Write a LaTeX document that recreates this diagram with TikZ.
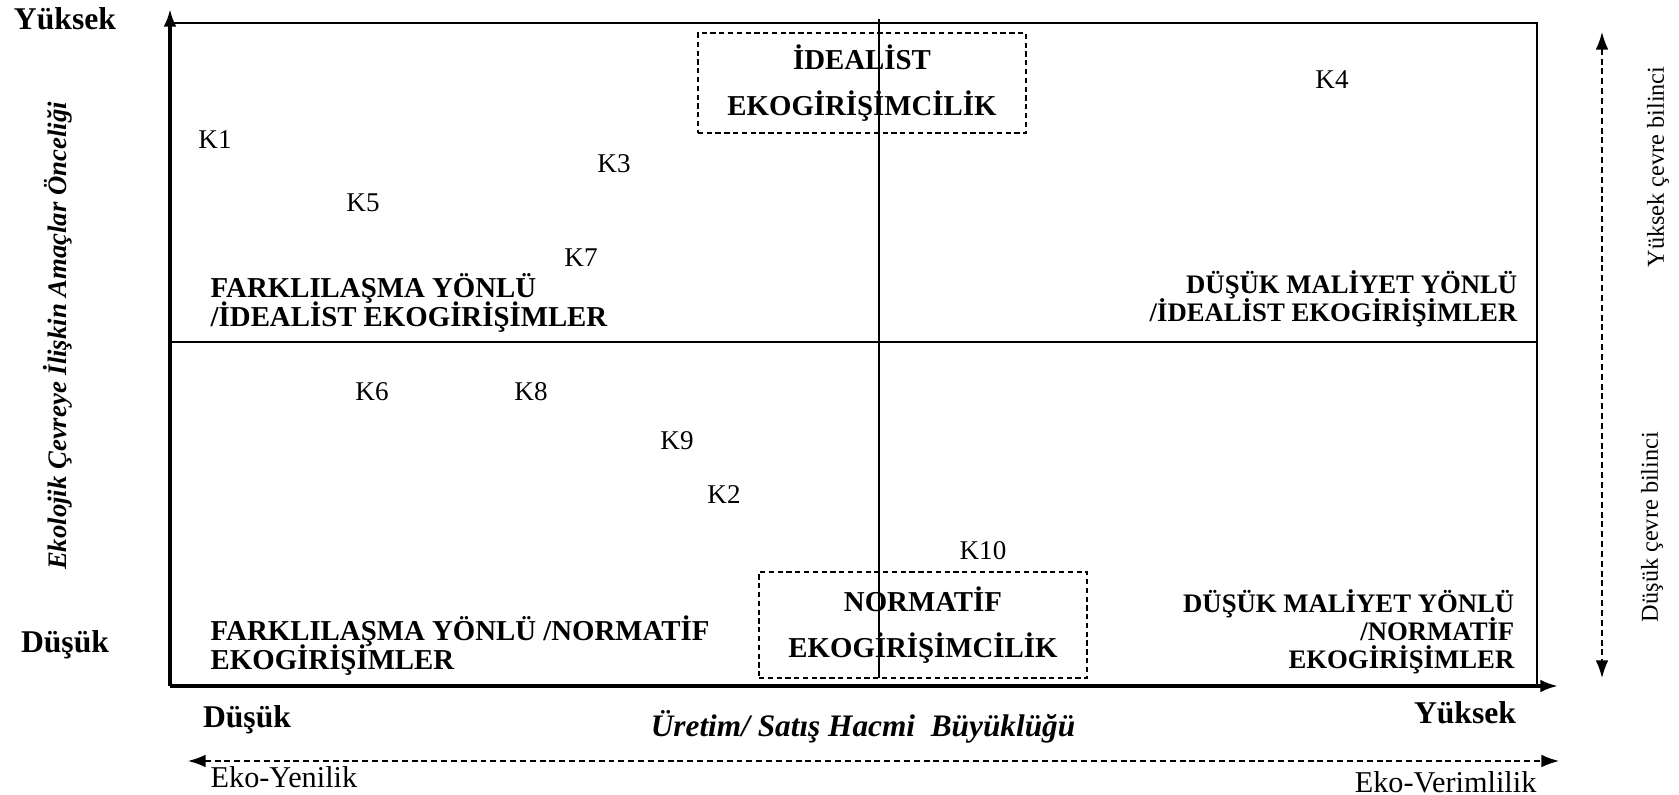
\documentclass[tikz,border=0pt]{standalone}
\usepackage{fontspec}
\setmainfont{Liberation Serif}
\usetikzlibrary{arrows.meta,positioning}
\lineskiplimit=-10pt

\begin{document}
\begin{tikzpicture}[x=0.01cm,y=-0.01cm,>={Latex[length=5pt,width=3.6pt]},
  lbl/.style={inner sep=0pt,font=\fontsize{8.2}{8.3}\selectfont\bfseries},
  rlbl/.style={inner sep=0pt,anchor=east,align=right,font=\fontsize{7.6}{7.9}\selectfont\bfseries},
  klbl/.style={inner sep=0pt,font=\fontsize{7.7}{9}\selectfont},
  ends/.style={inner sep=0pt,font=\fontsize{9}{10}\selectfont\bfseries},
  axname/.style={inner sep=0pt,font=\fontsize{8.9}{10}\selectfont\bfseries\itshape},
  hint/.style={inner sep=0pt,font=\fontsize{8.6}{10}\selectfont},
  side/.style={inner sep=0pt,rotate=90,font=\fontsize{6.9}{8}\selectfont},
  dashline/.style={dash pattern=on 1.7pt off 1.1pt,line width=0.45pt},
  typebox/.style={draw,dash pattern=on 1.5pt off 1pt,line width=0.45pt,
    minimum width=3.28cm,align=center,font=\fontsize{8.2}{13}\selectfont\bfseries}]
\useasboundingbox (0,0) rectangle (1679,795);

% frame and axes
\coordinate (O) at (170,686);
\coordinate (ytop) at (170,9);
\coordinate (xend) at (1558,686);
\coordinate (TL) at (170,23);
\coordinate (TR) at (1537,23);
\coordinate (BR) at (1537,686);
\coordinate (ML) at (170,342);
\coordinate (MR) at (1537,342);
\coordinate (ctop) at (879,19);
\coordinate (cbot) at (879,678);
\draw[->,line width=0.9pt] (O) -- (ytop);
\draw[->,line width=0.9pt] (O) -- (xend);
\draw[line width=0.8pt] (TL) -- (TR) -- (BR);
\draw[line width=0.7pt] (ML) -- (MR);
\draw[line width=0.4pt] (ctop) -- (cbot);

% dashed scales
\coordinate (lowL) at (188,761);
\coordinate (lowR) at (1559,761);
\coordinate (hiT) at (1602,32);
\coordinate (hiB) at (1602,678);
\draw[<->,dashline] (lowL) -- (lowR);
\draw[<->,dashline] (hiT) -- (hiB);

% axis texts
\node[ends] (ytxt) at (65,19) {Yüksek};
\node[ends] (ntxt) at (65,645) {Düşük};
\node[inner sep=0pt,rotate=90,font=\fontsize{7.6}{9}\selectfont\bfseries\itshape] (ylab) at (58,336) {Ekolojik Çevreye İlişkin Amaçlar Önceliği};
\node[ends] (xlo) at (247,720) {Düşük};
\node[ends] (xhi) at (1465,713) {Yüksek};
\node[axname] (xlab) at (863,727) {Üretim/ Satış Hacmi\ \ Büyüklüğü};
\node[hint,anchor=west] (eyen) at (210,777) {Eko-Yenilik};
\node[hint,anchor=east] (ever) at (1537,782) {Eko-Verimlilik};
\node[side] (hic) at (1658,167) {Yüksek çevre bilinci};
\node[side] (loc) at (1652,527) {Düşük çevre bilinci};

% quadrants
\node[lbl,anchor=west,align=left] (qtl) at (210,303) {FARKLILAŞMA YÖNLÜ\\/İDEALİST EKOGİRİŞİMLER};
\node[rlbl] (qtr) at (1518,299) {DÜŞÜK MALİYET YÖNLÜ\\/İDEALİST EKOGİRİŞİMLER};
\node[lbl,anchor=west,align=left] (qbl) at (210,646) {FARKLILAŞMA YÖNLÜ /NORMATİF\\EKOGİRİŞİMLER};
\node[rlbl] (qbr) at (1515,632) {DÜŞÜK MALİYET YÖNLÜ\\/NORMATİF\\EKOGİRİŞİMLER};
\node[typebox,minimum height=0.97cm] (ideal) at (862,83) {İDEALİST\\EKOGİRİŞİMCİLİK};
\node[typebox,minimum height=1.06cm] (norm) at (923,625) {NORMATİF\\EKOGİRİŞİMCİLİK};

% cases
\foreach \k/\px/\py in {1/215/140,2/724/495,3/614/164,4/1332/80,5/363/203,6/372/392,7/581/258,8/531/392,9/677/441,10/983/551}
  \node[klbl] (K\k) at (\px,\py) {K\k};
\end{tikzpicture}
\end{document}
